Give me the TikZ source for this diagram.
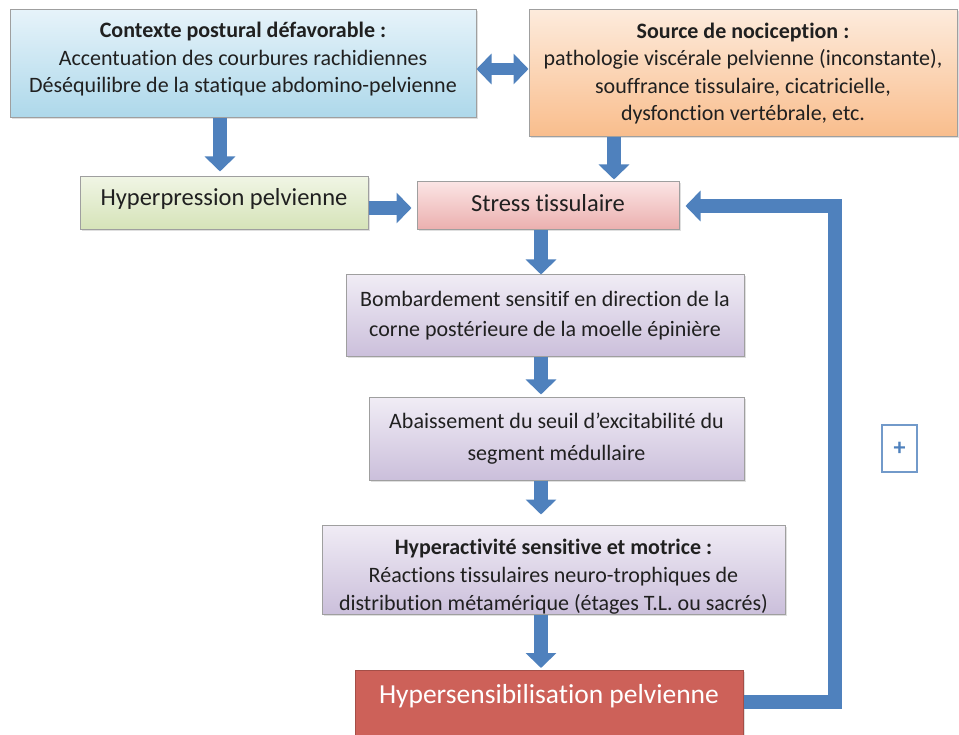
\documentclass[tikz,border=0pt]{standalone}
\usepackage{fontspec}
\setmainfont{Carlito}[Ligatures=NoCommon]
\usepackage{tikz}
\usetikzlibrary{arrows.meta, positioning, calc, shadows}

\definecolor{arrowblue}{HTML}{4F81BD}
\definecolor{ctxtop}{HTML}{E6F3FA}
\definecolor{ctxbot}{HTML}{ADD8EA}
\definecolor{srctop}{HTML}{FDEBDC}
\definecolor{srcbot}{HTML}{F9BD8C}
\definecolor{hyptop}{HTML}{F0F5E4}
\definecolor{hypbot}{HTML}{D5E3B8}
\definecolor{strtop}{HTML}{FBE4E4}
\definecolor{strbot}{HTML}{EBAFAE}
\definecolor{vlttop}{HTML}{F0ECF5}
\definecolor{vltbot}{HTML}{CBBFDB}
\definecolor{hsfill}{HTML}{CD6159}
\definecolor{txtgray}{HTML}{202020}

\begin{document}
\begin{tikzpicture}[x=1pt, y=-1pt,
    box/.style={rectangle, draw=gray!75, line width=1pt, align=center, inner sep=4pt, text=txtgray,
        drop shadow={opacity=0.25, shadow xshift=1.5pt, shadow yshift=-1.5pt},
        font=\fontsize{22}{27.5}\selectfont},
    fatarrow/.style={draw=arrowblue, line width=14pt, line join=miter,
        -{Triangle[width=30pt, length=15pt]}},
    dblarrow/.style={draw=arrowblue, line width=12pt,
        {Triangle[width=30pt, length=15pt]}-{Triangle[width=30pt, length=15pt]}}]
    \useasboundingbox (0,0) rectangle (959,735);
    \clip (0,0) rectangle (959,735);

    % top row
    \node [box, top color=ctxtop, bottom color=ctxbot, minimum width=466pt, minimum height=108pt,
        text depth=13pt]
        (ctx) at (243,64) {\textbf{Contexte postural défavorable :}\\Accentuation des courbures rachidiennes\\Déséquilibre de la statique abdomino-pelvienne};
    \node [box, top color=srctop, bottom color=srcbot, minimum width=428pt, minimum height=127pt]
        (src) at (743,73.5) {\textbf{Source de nociception :}\\pathologie viscérale pelvienne (inconstante),\\souffrance tissulaire, cicatricielle,\\dysfonction vertébrale, etc.};

    % second row
    \node [box, top color=hyptop, bottom color=hypbot, minimum width=288pt, minimum height=53pt,
        font=\fontsize{24.5}{28}\selectfont, text depth=14pt] (hyp) at (224,203.5) {Hyperpression pelvienne};
    \node [box, top color=strtop, bottom color=strbot, minimum width=262pt, minimum height=48pt,
        font=\fontsize{24.5}{28}\selectfont, text depth=7pt] (stress) at (548,206) {Stress tissulaire};

    % chain
    \node [box, top color=vlttop, bottom color=vltbot, minimum width=398pt, minimum height=82pt,
        font=\fontsize{22}{30}\selectfont] (bomb) at (545,316)
        {Bombardement sensitif en direction de la\\corne postérieure de la moelle épinière};
    \node [box, top color=vlttop, bottom color=vltbot, minimum width=375pt, minimum height=82pt,
        font=\fontsize{22}{32}\selectfont] (seuil) at (556.5,439)
        {Abaissement du seuil d’excitabilité du\\segment médullaire};
    \node [box, top color=vlttop, bottom color=vltbot, minimum width=463pt, minimum height=89pt,
        inner ysep=0pt, text height=85pt, text depth=4pt,
        font=\fontsize{22}{28}\selectfont] (hyperact) at (553.5,569.5)
        {\textbf{Hyperactivité sensitive et motrice :}\\Réactions tissulaires neuro-trophiques de\\distribution métamérique (étages T.L. ou sacrés)};
    \node [box, anchor=north, fill=hsfill, draw=hsfill!80!black, text=white, minimum width=388pt,
        inner ysep=14pt, text depth=60pt, font=\fontsize{27.5}{30}\selectfont] (hsens) at (549,670)
        {Hypersensibilisation pelvienne};

    \node [draw=arrowblue!80, line width=1.2pt, fill=white, minimum width=35pt, minimum height=47pt,
        text=arrowblue, font=\fontsize{24}{26}\selectfont\bfseries] (plus) at (899.5,448.5) {+};

    % arrows
    \coordinate (srcin) at ([xshift=66pt]stress.north);
    \draw [dblarrow] (ctx.east |- 0,69) -- (src.west |- 0,69);
    \draw [fatarrow, shorten >=5pt] (ctx.south -| 220,0) -- (hyp.north -| 220,0);
    \draw [fatarrow, shorten >=2pt] (src.south -| srcin) -- (srcin);
    \draw [fatarrow, shorten >=5pt] (hyp.east |- 0,208) -- (stress.west |- 0,208);
    \draw [fatarrow] (stress.south -| 541,0) -- (bomb.north -| 541,0);
    \draw [fatarrow, shorten >=3pt] (bomb.south -| 541,0) -- (seuil.north -| 541,0);
    \draw [fatarrow, shorten >=10pt] (seuil.south -| 541,0) -- (hyperact.north -| 541,0);
    \draw [fatarrow, shorten >=2pt] (hyperact.south -| 541,0) -- (hsens.north -| 541,0);
    \draw [fatarrow, shorten >=6pt] (hsens.east |- 0,702) -| ([xshift=155pt]stress.east) -- (stress.east);
\end{tikzpicture}
\end{document}
